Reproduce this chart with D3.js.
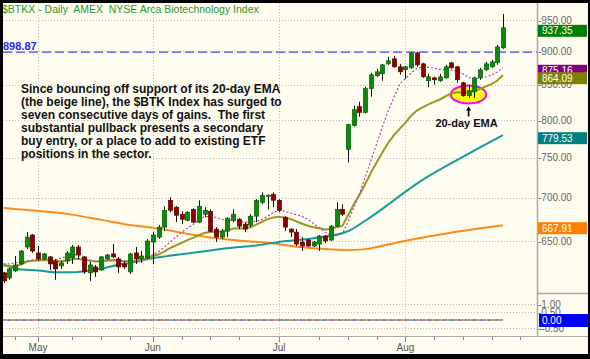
<!DOCTYPE html>
<html>
<head>
<meta charset="utf-8">
<script src="https://cdn.jsdelivr.net/npm/d3@7"></script>
<style>
  body {margin:0; background:#fff;}
  svg {display:block; font-family:"Liberation Sans", Arial, sans-serif;}
</style>
</head>
<body>
<script>
const title = "$BTKX - Daily  AMEX  NYSE Arca Biotechnology Index";

// daily candles, late April to late August: [open, high, low, close]
const candles = [
  [615.4, 616.4, 604.9, 607.0], [610.1, 620.7, 608.0, 619.6], [617.5, 633.5, 616.4, 623.8],
  [624.9, 640.0, 623.8, 638.9], [643.3, 660.0, 641.1, 654.4], [656.7, 657.8, 636.8, 638.9],
  [636.8, 644.4, 628.1, 630.3], [630.3, 636.8, 629.2, 635.7], [632.5, 633.5, 618.5, 624.9],
  [628.1, 630.3, 608.0, 619.6], [622.8, 628.1, 619.6, 626.0], [628.1, 638.9, 624.9, 636.8],
  [631.4, 645.5, 624.9, 643.3], [643.3, 645.5, 630.3, 634.6], [632.5, 633.5, 614.3, 616.4],
  [615.4, 627.1, 607.0, 623.8], [621.7, 623.8, 611.2, 616.4], [618.5, 633.5, 617.5, 632.5],
  [630.3, 635.7, 629.2, 634.6], [635.7, 646.6, 631.4, 632.5], [630.3, 632.5, 615.4, 621.7],
  [624.9, 628.1, 619.6, 621.7], [616.4, 636.8, 614.3, 635.7], [636.8, 643.3, 624.9, 630.3],
  [630.3, 638.9, 626.0, 633.5], [631.4, 652.2, 630.3, 650.0], [648.8, 660.0, 624.9, 656.7],
  [654.4, 668.0, 652.2, 665.7], [665.7, 690.0, 661.1, 685.2], [697.1, 700.7, 682.9, 685.2],
  [688.8, 690.0, 671.4, 679.4], [680.6, 684.1, 669.1, 674.8], [673.6, 684.1, 672.5, 682.9],
  [686.4, 687.6, 670.2, 671.4], [671.4, 697.1, 670.2, 690.0], [680.6, 688.8, 677.1, 685.2],
  [684.1, 686.4, 660.0, 661.1], [663.4, 665.7, 648.8, 654.4], [654.4, 663.4, 652.2, 661.1],
  [661.1, 677.1, 654.4, 676.0], [673.6, 686.4, 671.4, 680.6], [674.8, 676.0, 663.4, 666.8],
  [669.1, 671.4, 660.0, 663.4], [668.0, 680.6, 665.7, 678.3], [678.3, 698.3, 671.4, 697.1],
  [694.7, 706.7, 692.3, 703.1], [701.9, 704.3, 686.4, 703.1], [704.3, 706.7, 688.8, 697.1],
  [697.1, 698.3, 682.9, 685.2], [677.1, 678.3, 661.1, 665.7], [663.4, 664.5, 654.4, 660.0],
  [660.0, 663.4, 644.4, 646.6], [648.8, 654.4, 638.9, 644.4], [651.1, 652.2, 643.3, 644.4],
  [644.4, 650.0, 643.3, 648.8], [646.6, 656.7, 638.9, 655.6], [655.6, 656.7, 647.7, 650.0],
  [651.1, 668.0, 650.0, 666.8], [666.8, 694.7, 665.7, 686.4], [686.4, 692.3, 678.3, 680.6],
  [760.6, 795.1, 743.9, 793.8], [792.4, 820.1, 791.1, 814.5], [818.7, 825.7, 804.8, 810.3],
  [810.3, 847.2, 809.0, 844.3], [844.3, 867.7, 832.7, 864.7], [863.2, 873.6, 861.7, 869.1],
  [866.2, 881.1, 855.9, 879.6], [881.1, 891.7, 879.6, 885.7], [888.7, 893.3, 875.1, 876.6],
  [876.6, 881.1, 864.7, 869.1], [872.1, 878.1, 858.8, 876.6], [875.1, 899.4, 873.6, 897.9],
  [897.9, 899.4, 876.6, 879.6], [881.1, 882.6, 860.2, 861.7], [855.9, 866.2, 846.5, 861.7],
  [860.2, 861.7, 850.0, 857.3], [855.9, 866.2, 854.4, 861.7], [860.2, 879.6, 858.8, 876.6],
  [882.6, 884.1, 873.6, 875.1], [876.6, 878.1, 852.9, 857.3], [852.9, 854.4, 832.7, 834.2],
  [834.2, 850.0, 831.3, 841.4], [839.9, 861.7, 831.3, 860.2], [860.2, 875.1, 857.3, 872.1],
  [872.1, 884.1, 870.6, 881.1], [876.6, 887.2, 875.1, 884.1], [882.6, 910.2, 879.6, 907.1],
  [905.6, 959.8, 904.0, 937.35]
];

// purple dotted average, one value per day
const sma10 = [
  625, 625, 626, 627, 628, 629, 630, 630, 630, 629.3, 631.2, 632.9, 634.9, 634.5, 630.7,
  629.1, 627.8, 627.4, 628.4, 629.7, 629.3, 627.8, 627.0, 626.6, 628.3, 630.9, 634.9, 638.2,
  643.3, 648.6, 654.3, 659.7, 664.4, 668.5, 674.1, 677.7, 678.1, 677.0, 674.6, 673.6, 673.8,
  673.0, 671.0, 671.7, 672.4, 674.2, 678.4, 682.7, 685.1, 684.0, 682.0, 680.0, 678.1, 674.7,
  669.8, 665.1, 659.8, 656.8, 656.9, 658.4, 671.7, 688.5, 705.1, 725.1, 746.7, 768.1, 791.0,
  812.9, 831.9, 850.8, 859.1, 867.4, 874.3, 876.1, 875.8, 874.6, 872.8, 871.9, 871.7, 870.6,
  866.3, 860.7, 858.7, 859.8, 861.7, 864.4, 868.9, 875.16
];

// 20-day EMA (the beige / olive line)
const ema20 = [
  623.0, 622.7, 622.8, 624.3, 627.2, 628.3, 628.5, 629.2, 628.8, 627.9,
  627.7, 628.6, 630.0, 630.4, 629.1, 628.6, 627.4, 627.9, 628.5, 628.9,
  628.2, 627.6, 628.4, 628.6, 629.1, 631.1, 633.5, 635.0, 638.5, 642.0,
  645.0, 648.0, 651.0, 653.5, 656.5, 659.0, 660.0, 660.3, 660.6, 662.0,
  664.0, 664.3, 664.2, 665.5, 668.5, 671.8, 674.8, 676.9, 677.7, 676.6,
  675.0, 672.3, 669.6, 667.2, 665.4, 664.5, 663.1, 663.5, 665.7, 667.1,
  679.2, 692.1, 703.4, 716.8, 730.9, 744.1, 757.0, 769.3, 779.5, 788.0,
  796.4, 806.1, 813.1, 817.7, 821.9, 825.3, 828.8, 833.4, 837.4, 839.3,
  838.8, 839.0, 841.0, 844.0, 847.5, 851.0, 856.3, 864.09
];

// teal and orange averages, read at points: [day, value]
const sma50 = [[0, 624], [3, 619], [6, 618], [9, 616], [12, 616], [15, 618], [17, 620],
  [20, 624], [22, 626], [25, 630], [33, 637], [39, 642], [44, 645], [48, 649], [54, 653],
  [60, 661], [63, 673], [73, 722], [80, 751], [87, 779.53]];
const sma200 = [[0, 688], [5, 685], [11, 681], [17, 674], [22, 668], [26, 665], [34, 656],
  [40, 651], [46, 648], [52, 643], [56, 641], [60, 640], [63, 641], [69, 649], [74, 655],
  [83, 664.5], [87, 667.91]];

const monthTicks = [6, 26, 48, 70];
const monthLabels = ["May", "Jun", "Jul", "Aug"];
const weekTicks = [2, 12, 17, 22, 31, 36, 41, 55, 60, 65, 75, 80, 85, 90];
const priceTicks = [650, 700, 750, 800, 850, 900, 950];
const lowerTicks = [1, 0.5, 0, -0.5];
const lowerLevel = 0;
const refLevel = 898.87;

const tags = [
  {value: 937.35, color: "#008000"},
  {value: 875.16, color: "#800080"},
  {value: 864.09, color: "#808000"},
  {value: 779.53, color: "#008080"},
  {value: 667.91, color: "#FF8000"}
];

const note = [
  "Since bouncing off support of its 20-day EMA",
  "(the beige line), the $BTK Index has surged to",
  "seven consecutive days of gains.  The first",
  "substantial pullback presents a secondary",
  "buy entry, or a place to add to existing ETF",
  "positions in the sector."
];
// circled pullback to the EMA: day range and price range
const circle = {day0: 78, day1: 84, lo: 823, hi: 849};
const callout = {day: 81, arrowFrom: 805, arrowTo: 819, textAt: 791, text: "20-day EMA"};

const W = 590, H = 359;
const L = 3, R = 537, T = 3, mainB = 293, B = 336;

const svg = d3.select("body").append("svg").attr("width", W).attr("height", H);
svg.append("rect").attr("width", W).attr("height", H).attr("fill", "#FFFCF0");

const x = d3.scaleLinear().domain([0, candles.length - 1]).range([3.6, 503]);
const y = d3.scaleLog().domain([650, 950]).range([241, 20]);
const yLow = d3.scaleLinear().domain([-0.5, 1]).range([328, 304]);

svg.append("clipPath").attr("id", "clip")
  .append("rect").attr("x", L).attr("y", T).attr("width", R - L).attr("height", mainB - T);

// grid
const grid = svg.append("g").attr("stroke", "#BDBDBD").attr("stroke-dasharray", "1,2");
grid.selectAll(".hg").data(priceTicks).join("line")
  .attr("x1", L).attr("x2", R).attr("y1", d => Math.round(y(d)) + 0.5).attr("y2", d => Math.round(y(d)) + 0.5);
grid.selectAll(".lg").data(lowerTicks.filter(d => d !== lowerLevel)).join("line")
  .attr("x1", L).attr("x2", R).attr("y1", d => Math.round(yLow(d)) + 0.5).attr("y2", d => Math.round(yLow(d)) + 0.5);
grid.selectAll(".vg").data(monthTicks).join("line")
  .attr("x1", d => Math.round(x(d)) + 0.5).attr("x2", d => Math.round(x(d)) + 0.5)
  .attr("y1", T).attr("y2", B);

// resistance level
svg.append("line")
  .attr("x1", L).attr("x2", R).attr("y1", y(refLevel)).attr("y2", y(refLevel))
  .attr("stroke", "#4848FF").attr("stroke-width", 1.3).attr("stroke-dasharray", "9,4");
svg.append("text").attr("x", 3).attr("y", y(refLevel) - 2)
  .attr("fill", "#2828F0").attr("font-size", 11).attr("font-weight", "bold").text(refLevel.toFixed(2));

const main = svg.append("g").attr("clip-path", "url(#clip)");

// annotation ellipse below the candles
main.append("ellipse")
  .attr("cx", (x(circle.day0) + x(circle.day1)) / 2)
  .attr("cy", (y(circle.lo) + y(circle.hi)) / 2)
  .attr("rx", (x(circle.day1) - x(circle.day0)) / 2 + 0.5)
  .attr("ry", (y(circle.lo) - y(circle.hi)) / 2)
  .attr("fill", "#FFFF00").attr("stroke", "#FF00FF").attr("stroke-width", 2);

const dayLine = d3.line().x((d, i) => x(i)).y(d => y(d));
const ptLine = d3.line().x(d => x(d[0])).y(d => y(d[1])).curve(d3.curveMonotoneX);

main.append("path").datum(sma200).attr("d", ptLine)
  .attr("fill", "none").attr("stroke", "#FF8A1C").attr("stroke-width", 2);
main.append("path").datum(sma50).attr("d", ptLine)
  .attr("fill", "none").attr("stroke", "#169B9B").attr("stroke-width", 2);
main.append("path").datum(ema20).attr("d", dayLine)
  .attr("fill", "none").attr("stroke", "#999922").attr("stroke-width", 2);
main.append("path").datum(sma10).attr("d", dayLine)
  .attr("fill", "none").attr("stroke", "#B040B8").attr("stroke-width", 1.2).attr("stroke-dasharray", "2,2");

// candles
const bw = 4.4;
const cg = main.selectAll(".c").data(candles).join("g");
cg.append("line")
  .attr("x1", (d, i) => Math.round(x(i)) + 0.5).attr("x2", (d, i) => Math.round(x(i)) + 0.5)
  .attr("y1", d => y(d[1])).attr("y2", d => y(d[2]))
  .attr("stroke", "#111").attr("stroke-width", 1);
cg.append("rect")
  .attr("x", (d, i) => Math.round(x(i)) + 0.5 - bw / 2)
  .attr("width", bw)
  .attr("y", d => y(Math.max(d[0], d[3])))
  .attr("height", d => Math.max(1, Math.abs(y(d[0]) - y(d[3]))))
  .attr("fill", d => d[3] >= d[0] ? "#0A8A0A" : "#8E0000")
  .attr("stroke", d => d[3] >= d[0] ? "#045A04" : "#5A0000")
  .attr("stroke-width", 0.6);

// callout arrow and label
const ax = x(callout.day);
svg.append("line").attr("x1", ax).attr("x2", ax)
  .attr("y1", y(callout.arrowFrom)).attr("y2", y(callout.arrowTo) + 3)
  .attr("stroke", "#000").attr("stroke-width", 1.6);
svg.append("path")
  .attr("d", `M${ax - 2.5},${y(callout.arrowTo) + 4} L${ax},${y(callout.arrowTo)} L${ax + 2.5},${y(callout.arrowTo) + 4} Z`)
  .attr("fill", "#000");
svg.append("text").attr("x", ax - 2).attr("y", y(callout.textAt))
  .attr("text-anchor", "middle").attr("font-size", 11).attr("font-weight", "bold")
  .attr("fill", "#111").text(callout.text);

// commentary
svg.append("g").selectAll("text").data(note).join("text")
  .attr("x", 21).attr("y", (d, i) => 93 + i * 13)
  .attr("font-size", 12).attr("font-weight", "bold").attr("fill", "#111")
  .attr("xml:space", "preserve").style("white-space", "pre").text(d => d);

// lower panel flat indicator
const lowY = yLow(lowerLevel);
[["#FF3B3B", 0], ["#3FBF3F", 2.5], ["#4A4AFF", 5]].forEach(([c, off]) => {
  svg.append("line").attr("x1", x(0) - 1).attr("x2", x(candles.length - 1))
    .attr("y1", lowY).attr("y2", lowY)
    .attr("stroke", c).attr("stroke-width", 1.4)
    .attr("stroke-dasharray", "2.5,5").attr("stroke-dashoffset", -off);
});

// title
svg.append("text").attr("x", 2).attr("y", 13)
  .attr("fill", "#2A9A2A").attr("font-size", 10.5)
  .style("white-space", "pre").text(title);

// right axis
svg.append("line").attr("x1", R + 0.5).attr("x2", R + 0.5).attr("y1", T).attr("y2", B)
  .attr("stroke", "#A8A8A8").attr("stroke-width", 1.5);
svg.append("line").attr("x1", R).attr("x2", W).attr("y1", mainB + 0.5).attr("y2", mainB + 0.5)
  .attr("stroke", "#A8A8A8").attr("stroke-width", 1.5);

const ra = svg.append("g").attr("fill", "#666").attr("font-size", 10);
ra.selectAll(".pt").data(priceTicks).join("text")
  .attr("x", R + 1).attr("y", d => y(d)).attr("dy", "0.35em").text(d => "-" + d.toFixed(2));
// the 0.00 tick label sits under the indicator tag
ra.selectAll(".lt").data(lowerTicks.filter(d => d !== lowerLevel)).join("text")
  .attr("x", R + 1).attr("y", d => yLow(d)).attr("dy", "0.35em").text(d => "-" + d.toFixed(2));

const tg = svg.selectAll(".tag").data(tags).join("g");
tg.append("rect").attr("x", R + 1).attr("width", 49)
  .attr("y", d => y(d.value) - 3).attr("height", 12).attr("fill", d => d.color);
tg.append("text").attr("x", R + 5).attr("y", d => y(d.value) + 3).attr("dy", "0.36em")
  .attr("fill", "#fff").attr("font-size", 10).text(d => d.value.toFixed(2));

svg.append("rect").attr("x", R + 2).attr("width", 51).attr("y", lowY - 6).attr("height", 13).attr("fill", "#0000FF");
svg.append("text").attr("x", R + 5).attr("y", lowY + 0.5).attr("dy", "0.36em")
  .attr("fill", "#fff").attr("font-size", 10).text(lowerLevel.toFixed(2));

// bottom axis
svg.append("line").attr("x1", L).attr("x2", W).attr("y1", B + 0.5).attr("y2", B + 0.5)
  .attr("stroke", "#A8A8A8").attr("stroke-width", 1);
svg.selectAll(".wt").data(weekTicks).join("line")
  .attr("x1", d => Math.round(x(d)) + 0.5).attr("x2", d => Math.round(x(d)) + 0.5)
  .attr("y1", B + 1).attr("y2", B + 4).attr("stroke", "#888");
svg.selectAll(".mt").data(monthTicks).join("line")
  .attr("x1", d => Math.round(x(d)) + 0.5).attr("x2", d => Math.round(x(d)) + 0.5)
  .attr("y1", B + 1).attr("y2", B + 6).attr("stroke", "#888");
svg.selectAll(".ml").data(monthTicks).join("text")
  .attr("x", d => x(d)).attr("y", 351).attr("text-anchor", "middle")
  .attr("fill", "#555").attr("font-size", 10).text((d, i) => monthLabels[i]);

// frame
svg.append("rect").attr("x", 0).attr("y", 0).attr("width", W).attr("height", 3).attr("fill", "#000");
svg.append("rect").attr("x", 0).attr("y", 0).attr("width", 3).attr("height", H).attr("fill", "#000");
svg.append("rect").attr("x", 0).attr("y", 354).attr("width", W).attr("height", 5).attr("fill", "#000");
svg.append("rect").attr("x", 588).attr("y", 0).attr("width", 2).attr("height", H).attr("fill", "#000");
</script>
</body>
</html>
